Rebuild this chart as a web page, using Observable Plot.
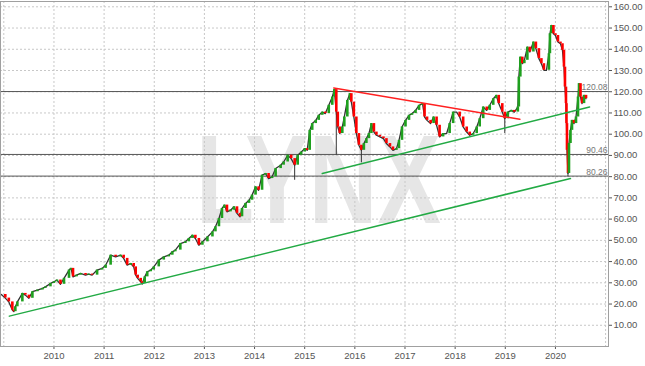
<!DOCTYPE html>
<html><head><meta charset="utf-8">
<script src="https://cdn.jsdelivr.net/npm/d3@7"></script>
<script src="https://cdn.jsdelivr.net/npm/@observablehq/plot@0.6"></script>
<style>html,body{margin:0;padding:0;background:#fff}svg{display:block}</style>
</head><body><div id="chart"></div>
<script>
// Decimal-year dates and closing prices
const dates = [2008.95,2009.03,2009.10,2009.17,2009.20,2009.23,2009.27,2009.37,2009.43,2009.50,2009.57,2009.67,2009.77,2009.83,2009.93,2010.00,2010.06,2010.13,2010.20,2010.30,2010.34,2010.38,2010.45,2010.53,2010.63,2010.69,2010.76,2010.86,2010.96,2011.03,2011.13,2011.23,2011.33,2011.39,2011.46,2011.53,2011.59,2011.63,2011.67,2011.73,2011.76,2011.81,2011.86,2011.93,2011.99,2012.09,2012.19,2012.29,2012.36,2012.42,2012.52,2012.62,2012.69,2012.76,2012.82,2012.89,2012.96,2013.06,2013.16,2013.22,2013.29,2013.35,2013.40,2013.45,2013.52,2013.59,2013.65,2013.71,2013.75,2013.82,2013.89,2013.95,2014.02,2014.08,2014.15,2014.22,2014.28,2014.35,2014.42,2014.52,2014.58,2014.66,2014.73,2014.80,2014.86,2014.93,2015.00,2015.05,2015.10,2015.15,2015.22,2015.28,2015.35,2015.41,2015.48,2015.55,2015.59,2015.63,2015.66,2015.70,2015.75,2015.79,2015.85,2015.90,2015.93,2015.98,2016.03,2016.08,2016.13,2016.18,2016.23,2016.28,2016.33,2016.38,2016.43,2016.50,2016.57,2016.63,2016.70,2016.76,2016.83,2016.88,2016.94,2017.01,2017.08,2017.14,2017.21,2017.28,2017.35,2017.39,2017.44,2017.51,2017.57,2017.63,2017.69,2017.76,2017.83,2017.89,2017.96,2018.03,2018.09,2018.16,2018.23,2018.29,2018.36,2018.43,2018.49,2018.56,2018.63,2018.69,2018.76,2018.82,2018.87,2018.94,2018.99,2019.05,2019.12,2019.18,2019.25,2019.27,2019.30,2019.34,2019.38,2019.44,2019.49,2019.56,2019.61,2019.67,2019.72,2019.77,2019.82,2019.87,2019.89,2019.92,2019.96,2020.00,2020.05,2020.10,2020.14,2020.17,2020.19,2020.21,2020.22,2020.23,2020.25,2020.27,2020.30,2020.33,2020.37,2020.41,2020.45,2020.47,2020.50,2020.53,2020.57,2020.61];
const closes = [24.5,22.8,21.0,17.2,16.4,18.7,21.0,25.0,24.2,22.7,25.8,26.6,27.4,28.1,29.7,30.5,31.3,29.3,32.1,36.0,36.8,32.8,33.6,34.4,33.6,34.1,33.6,36.0,36.8,38.3,43.0,42.2,43.0,41.5,38.3,39.1,37.5,33.6,32.1,30.5,29.7,32.8,35.2,36.0,37.5,40.7,42.2,43.0,44.6,45.4,48.5,49.3,50.9,52.4,50.9,47.7,49.3,51.6,54.0,56.4,60.3,65.0,66.6,63.4,64.2,65.8,62.7,61.1,65.0,67.4,68.9,71.3,75.2,73.6,80.7,81.5,79.1,79.9,83.8,85.4,86.9,90.1,88.5,85.4,90.1,91.6,93.2,92.4,101.8,105.0,106.5,108.9,110.4,109.7,113.6,117.5,121.0,110.4,103.4,100.3,103.4,108.1,115.9,119.1,115.1,108.1,100.3,94.8,92.4,95.6,97.9,100.3,105.0,101.0,99.5,98.7,97.9,95.6,94.0,92.4,93.2,97.1,103.4,106.5,108.9,109.7,111.2,113.6,114.4,108.1,106.5,105.0,108.1,104.2,98.7,100.3,100.3,105.0,110.4,110.4,108.1,103.4,101.0,99.5,100.3,103.4,107.3,112.8,111.2,113.6,116.7,118.3,114.4,110.4,107.3,110.4,111.2,110.4,112.8,126.9,136.3,133.2,134.8,141.0,138.7,143.4,140.3,135.6,133.2,130.1,130.1,137.9,147.3,151.2,147.3,146.5,143.4,142.6,139.5,131.6,122.2,114.4,105.0,92.4,81.5,95.6,101.8,106.5,105.0,108.1,117.5,123.8,117.5,114.4,118.3,116.7];

// Notable low wicks
const wickDates = [2011.76, 2014.80, 2015.63, 2016.13, 2018.99, 2020.25];
const wickLows = [28.9, 78.3, 90.1, 86.5, 100.3, 79.9];

// Horizontal levels
const levelValues = [120.08, 90.46, 80.26];
const levelLabels = ["120.08", "90.46", "80.26"];

// Trend lines
const longSupportDates = [2009.11, 2020.30];
const longSupportValues = [14.3, 79.1];
const midSupportDates = [2015.35, 2020.68];
const midSupportValues = [81.5, 112.8];
const resistanceDates = [2015.58, 2019.29];
const resistanceValues = [121.8, 107.0];

// Axis ticks
const yTicks = [10,20,30,40,50,60,70,80,90,100,110,120,130,140,150,160];
const xTicks = [2010,2011,2012,2013,2014,2015,2016,2017,2018,2019,2020];
const gridYears = [2009,2010,2011,2012,2013,2014,2015,2016,2017,2018,2019,2020,2021];

const candles = dates.map((d, i) => ({date: d, open: i ? closes[i - 1] : closes[i], close: closes[i]}));
const wicks = wickDates.map((d, i) => ({date: d, low: wickLows[i], top: closes[dates.indexOf(d)]}));
const levels = levelValues.map((v, i) => ({v, label: levelLabels[i]}));
const toLine = (ds, vs) => ds.map((d, i) => ({date: d, value: vs[i]}));

const plot = Plot.plot({
  width: 645, height: 366,
  marginLeft: 0, marginRight: 37, marginTop: 1, marginBottom: 20,
  style: {fontFamily: "Arial, 'Liberation Sans', sans-serif", fontSize: "9.5px", color: "#555", background: "#fff"},
  x: {type: "linear", domain: [2008.934, 2021.058], ticks: xTicks, tickFormat: d => String(d), tickSize: 3, tickPadding: 3},
  y: {domain: [0, 162.5], ticks: yTicks, tickFormat: d => d.toFixed(2), axis: "right", tickSize: 3, tickPadding: 2},
  marks: [
    Plot.text([{x: 2015.275, y: 77.4, t: "LYNX"}], {x: "x", y: "y", text: "t", fontSize: 126, fontWeight: "bold", fill: "#e6e6e6", lineAnchor: "middle"}),
    Plot.ruleY(yTicks, {stroke: "#c8c8c8", strokeDasharray: "2,2"}),
    Plot.ruleX(gridYears, {stroke: "#c8c8c8", strokeDasharray: "2,2"}),
    Plot.ruleY(levels, {y: "v", stroke: "#555", strokeWidth: 1}),
    Plot.line(candles, {x: "date", y: "close", stroke: "#333", strokeWidth: 1.3}),
    Plot.ruleX(wicks, {x: "date", y1: "low", y2: "top", stroke: "#333", strokeWidth: 1}),
    Plot.ruleX(candles, {x: "date", y1: "open", y2: "close", stroke: d => d.close >= d.open ? "#1ea01e" : "#ff0000", strokeWidth: 2.6}),
    Plot.line(toLine(longSupportDates, longSupportValues), {x: "date", y: "value", stroke: "#22aa44", strokeWidth: 1.5}),
    Plot.line(toLine(midSupportDates, midSupportValues), {x: "date", y: "value", stroke: "#22aa44", strokeWidth: 1.5}),
    Plot.line(toLine(resistanceDates, resistanceValues), {x: "date", y: "value", stroke: "#ff2020", strokeWidth: 1.5}),
    Plot.text(levels, {y: "v", text: "label", frameAnchor: "right", textAnchor: "end", dx: -1, dy: -4, fontSize: 8.5, fill: "#777"}),
    Plot.frame({stroke: "#a0a0a0"})
  ]
});
d3.select(plot).selectAll("text").filter(function () { return this.textContent === "LYNX"; })
  .attr("textLength", 245).attr("lengthAdjust", "spacingAndGlyphs");
document.getElementById("chart").appendChild(plot);
</script>
</body></html>
